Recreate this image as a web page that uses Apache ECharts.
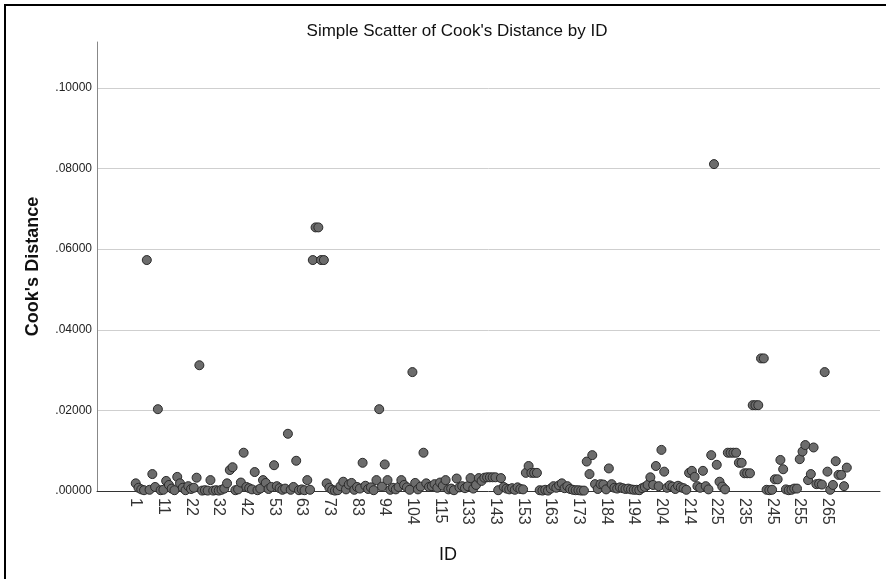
<!DOCTYPE html>
<html>
<head>
<meta charset="utf-8">
<script src="https://cdn.jsdelivr.net/npm/echarts@6/dist/echarts.min.js"></script>
<style>
html,body{margin:0;padding:0;background:#fff;}
#chart{width:886px;height:579px;}
</style>
</head>
<body>
<div id="chart"></div>
<script>
// Case IDs present in the data (category axis)
const ids = [
  1,2,3,4,5,6,7,8,9,10,
  11,12,13,14,15,17,18,19,20,21,
  22,23,24,25,26,27,28,29,30,31,
  32,33,34,35,36,37,38,39,40,41,
  42,43,44,45,46,48,49,50,51,52,
  53,54,55,56,57,58,59,60,61,62,
  63,64,65,66,67,68,69,70,71,72,
  73,74,75,76,77,78,79,80,81,82,
  83,84,85,86,87,88,90,91,92,93,
  94,95,96,97,98,99,100,101,102,103,
  104,105,106,107,108,110,111,112,113,114,
  115,116,118,120,122,124,126,128,130,132,
  133,134,135,136,137,138,139,140,141,142,
  143,144,145,146,147,148,149,150,151,152,
  153,154,155,156,157,158,159,160,161,162,
  163,164,165,166,167,168,169,170,171,172,
  173,174,175,176,177,179,180,181,182,183,
  184,185,186,187,188,189,190,191,192,193,
  194,195,196,197,198,199,200,201,202,203,
  204,205,206,207,208,209,210,211,212,213,
  214,215,216,217,218,219,221,222,223,224,
  225,226,227,228,229,230,231,232,233,234,
  235,236,237,238,239,240,241,242,243,244,
  245,246,247,248,249,250,251,252,253,254,
  255,256,257,258,259,260,261,262,263,264,
  265,266,267,268,269,270,271,272
];

// Cook's distance per case
const cooksDistance = [
  0.0019,0.0008,0.0004,0.0002,0.0573,0.0003,0.0042,0.0010,0.0203,0.0002,
  0.0003,0.0025,0.0015,0.0006,0.0002,0.0035,0.0019,0.0008,0.0002,0.0012,
  0.0005,0.0008,0.0033,0.0312,0.0001,0.0002,0.0001,0.0027,0.0001,0.0002,
  0.0001,0.0003,0.0006,0.0019,0.0052,0.0059,0.0002,0.0004,0.0021,0.0095,
  0.0010,0.0007,0.0004,0.0047,0.0002,0.0006,0.0027,0.0020,0.0005,0.0010,
  0.0064,0.0012,0.0007,0.0003,0.0006,0.0142,0.0003,0.0010,0.0075,0.0002,
  0.0004,0.0002,0.0027,0.0003,0.0573,0.0654,0.0654,0.0573,0.0573,0.0019,
  0.0008,0.0003,0.0001,0.0002,0.0012,0.0023,0.0004,0.0016,0.0020,0.0003,
  0.0010,0.0006,0.0070,0.0013,0.0005,0.0009,0.0002,0.0027,0.0203,0.0011,
  0.0066,0.0027,0.0003,0.0008,0.0004,0.0010,0.0027,0.0015,0.0009,0.0003,
  0.0295,0.0020,0.0004,0.0011,0.0095,0.0019,0.0010,0.0012,0.0017,0.0008,
  0.0021,0.0013,0.0027,0.0004,0.0006,0.0002,0.0031,0.0009,0.0012,0.0007,
  0.0012,0.0032,0.0006,0.0015,0.0032,0.0025,0.0033,0.0034,0.0034,0.0034,
  0.0034,0.0002,0.0032,0.0010,0.0006,0.0004,0.0007,0.0003,0.0009,0.0005,
  0.0004,0.0045,0.0062,0.0045,0.0045,0.0045,0.0002,0.0001,0.0003,0.0001,
  0.0006,0.0012,0.0008,0.0014,0.0019,0.0007,0.0012,0.0005,0.0003,0.0002,
  0.0002,0.0001,0.0001,0.0073,0.0042,0.0089,0.0017,0.0005,0.0017,0.0016,
  0.0004,0.0056,0.0017,0.0008,0.0006,0.0009,0.0007,0.0005,0.0006,0.0004,
  0.0003,0.0003,0.0002,0.0007,0.0010,0.0015,0.0034,0.0015,0.0062,0.0012,
  0.0102,0.0048,0.0008,0.0014,0.0011,0.0005,0.0013,0.0009,0.0007,0.0003,
  0.0045,0.0050,0.0035,0.0012,0.0008,0.0050,0.0012,0.0004,0.0089,0.0811,
  0.0065,0.0023,0.0011,0.0004,0.0095,0.0095,0.0095,0.0095,0.0070,0.0070,
  0.0044,0.0044,0.0044,0.0213,0.0213,0.0213,0.0329,0.0329,0.0003,0.0002,
  0.0003,0.0029,0.0029,0.0077,0.0054,0.0004,0.0002,0.0003,0.0006,0.0006,
  0.0079,0.0098,0.0114,0.0027,0.0042,0.0108,0.0017,0.0018,0.0016,0.0295,
  0.0048,0.0003,0.0015,0.0074,0.0040,0.0040,0.0012,0.0058
];

const yTicks = [0, 0.02, 0.04, 0.06, 0.08, 0.10];
const labelEvery = 10;

const FONT = 'Liberation Sans, Arial, sans-serif';
const chart = echarts.init(document.getElementById('chart'), null, {renderer: 'canvas'});

chart.setOption({
  animation: false,
  backgroundColor: '#ffffff',
  graphic: [{
    type: 'rect',
    shape: {x: 5, y: 5, width: 900, height: 600},
    style: {fill: 'none', stroke: '#000', lineWidth: 2},
    silent: true
  }],
  title: [{
    text: "Simple Scatter of Cook's Distance by ID",
    left: 452, top: 18, textAlign: 'center',
    textStyle: {fontFamily: FONT, fontSize: 17, fontWeight: 'normal', color: '#111'}
  }, {
    text: 'ID',
    left: 443, top: 541, textAlign: 'center',
    textStyle: {fontFamily: FONT, fontSize: 18, fontWeight: 'normal', color: '#111'}
  }],
  grid: {left: 97, right: 6, top: 42, bottom: 88, containLabel: false},
  xAxis: {
    type: 'category',
    data: ids.map(String),
    boundaryGap: false,
    min: -14,
    max: 269,
    axisLine: {show: true, lineStyle: {color: '#333', width: 1}},
    axisTick: {show: false},
    splitLine: {show: false},
    axisLabel: {
      interval: function (idx) { return idx >= 0 && idx < ids.length && idx % labelEvery === 0; },
      rotate: -90,
      margin: 7,
      fontFamily: FONT,
      fontSize: 16,
      color: '#333'
    }
  },
  yAxis: {
    type: 'value',
    min: 0,
    max: 0.1114,
    interval: 0.02,
    name: "Cook's Distance",
    nameLocation: 'middle',
    nameRotate: 90,
    nameGap: 55,
    nameTextStyle: {fontFamily: FONT, fontSize: 18, fontWeight: 'bold', color: '#111'},
    axisLine: {show: true, lineStyle: {color: '#888', width: 1}},
    axisTick: {show: false},
    splitLine: {show: true, showMinLine: false, showMaxLine: false, lineStyle: {color: '#cfcfcf', width: 1}},
    axisLabel: {
      showMaxLabel: false,
      margin: 5,
      fontFamily: FONT,
      fontSize: 12,
      color: '#222',
      formatter: function (v) {
        if (!yTicks.some(t => Math.abs(t - v) < 1e-9)) return '';
        return v.toFixed(5).replace(/^0/, '');
      }
    }
  },
  series: [{
    type: 'scatter',
    data: cooksDistance,
    symbol: 'circle',
    symbolSize: 9,
    itemStyle: {color: '#6c6c6c', borderColor: '#2a2a2a', borderWidth: 1, opacity: 1},
    emphasis: {disabled: true}
  }]
});
</script>
</body>
</html>
